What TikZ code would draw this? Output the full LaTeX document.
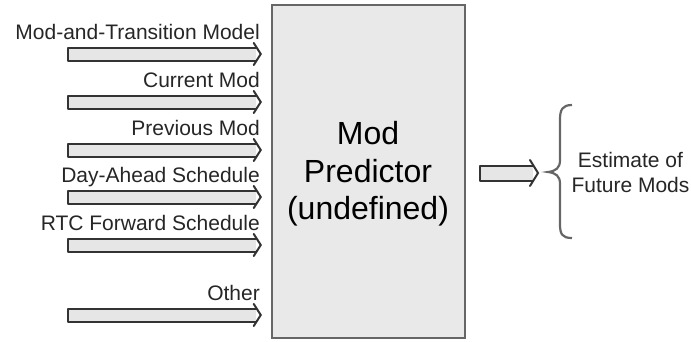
\documentclass[tikz,border=0pt]{standalone}
\usepackage{fontspec}
\setmainfont{Liberation Sans}
\usetikzlibrary{calc}
\definecolor{boxfill}{HTML}{E9E9E9}
\definecolor{boxline}{HTML}{666666}
\definecolor{arrline}{HTML}{333333}
\definecolor{arrfill}{HTML}{E6E6E6}
\definecolor{txt}{HTML}{262626}
\begin{document}
\begin{tikzpicture}[x=1pt,y=-1pt,
  lbl/.style={anchor=base east,inner sep=0pt,text=txt,font=\fontsize{21}{25}\selectfont},
  arrbody/.style={draw=arrline,line width=2pt,line join=round,fill=arrfill},
  arrhead/.style={draw=arrline,line width=2pt,line join=miter,line cap=round},
  predbox/.style={draw=boxline,line width=2.5pt,fill=boxfill,minimum width=193pt,minimum height=333pt,inner sep=0pt},
  predtxt/.style={inner sep=0pt,anchor=base,font=\fontsize{32}{38}\selectfont},
  outlbl/.style={inner sep=0pt,anchor=base,text=txt,font=\fontsize{21}{25}\selectfont}
]
\useasboundingbox (0,0) rectangle (691,341);
\node[predbox] (pred) at (368.5,171.5) {};
\node[predtxt] (t1) at (368,144) {Mod};
\node[predtxt] (t2) at (368,182) {Predictor};
\node[predtxt] (t3) at (368,219) {(undefined)};

\foreach \i/\y/\t in {1/54/Mod-and-Transition Model,2/102/Current Mod,3/150/Previous Mod,4/197/Day-Ahead Schedule,5/245/RTC Forward Schedule,6/315/Other}{
  \coordinate (s\i) at (68,\y);
  \coordinate (e\i) at ($(pred.west |- s\i)+(-10,0)$);
  \node[lbl] (l\i) at (260,\y-15) {\t};
  \path[arrbody] ($(e\i)+(-5,-6.5)$) -- ($(s\i)+(0,-6.5)$) -- ($(s\i)+(0,6.5)$) -- ($(e\i)+(-5,6.5)$);
  \draw[arrhead] ($(e\i)+(-7,-11)$) -- (e\i) -- ($(e\i)+(-7,11)$);
}

\coordinate (o1) at (480,173);
\coordinate (o2) at (538,173);
\path[arrbody] ($(o2)+(-5,-7.5)$) -- ($(o1)+(0,-7.5)$) -- ($(o1)+(0,7.5)$) -- ($(o2)+(-5,7.5)$);
\draw[arrhead] ($(o2)+(-8,-13)$) -- (o2) -- ($(o2)+(-8,13)$);

\coordinate (bt) at (572,105);
\coordinate (bm) at (548,172);
\coordinate (bb) at (572,238);
\draw[line width=2.2pt,draw=boxline] (bt) .. controls (562,105) and (560,110) .. (560,120) -- (560,160)
  .. controls (560,168) and (556,171) .. (bm) .. controls (556,173) and (560,176) .. (560,184)
  -- (560,224) .. controls (560,234) and (562,238) .. (bb);

\node[outlbl] (e1) at (630.5,167) {Estimate of};
\node[outlbl] (e2) at (630.5,192) {Future Mods};
\end{tikzpicture}
\end{document}
